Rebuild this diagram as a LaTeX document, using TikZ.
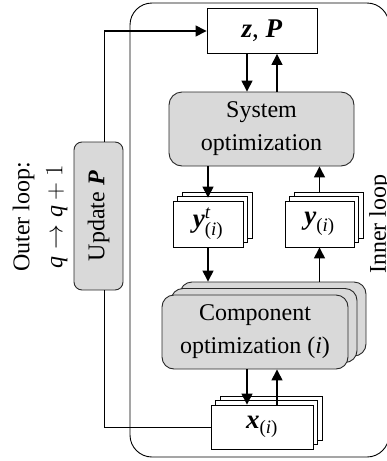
\documentclass[tikz,border=0pt]{standalone}
\usepackage{fontspec}
\usepackage{amsmath}
\usepackage{graphicx}
\setmainfont{Liberation Serif}
\usetikzlibrary{arrows.meta,shadows}
\definecolor{boxgray}{RGB}{217,217,217}
\definecolor{edgegray}{RGB}{40,40,40}
\newcommand{\bi}[1]{\textbf{\textit{#1}}}
\begin{document}
\begin{tikzpicture}[x=1pt,y=-1pt,
  font=\fontsize{24}{33}\selectfont,
  varbox/.style={draw=black,line width=0.9pt,fill=white,inner sep=0pt,
    minimum height=45pt,font=\fontsize{27}{30}\selectfont},
  stackthin/.style={double copy shadow={shadow xshift=4.5pt,shadow yshift=4.5pt}},
  optbox/.style={draw=edgegray,line width=0.9pt,fill=boxgray,rounded corners=13pt,
    inner sep=0pt,align=center},
  arr/.style={line width=1.4pt,-{Triangle[length=11pt,width=11pt]}},
]
\useasboundingbox (0,0) rectangle (387,461);
\begin{scope}
\clip (0,0) rectangle (387,461);
% inner loop frame
\draw[line width=0.9pt,rounded corners=22pt] (130,3) rectangle (389,457);
\node[rotate=90,inner sep=0pt] (inner) at (380,224) {Inner loop};

% variable boxes
\node[varbox,minimum width=110pt] (zp) at (262,31) {\bi{z}, \bi{P}};
\node[varbox,stackthin,minimum width=70pt,minimum height=46pt] (yt) at (208,224)
  {$\bi{y}^{\textit{t}}_{\text{(\textit{i})}}$};
\node[varbox,stackthin,minimum width=69pt,minimum height=46pt] (yb) at (319.5,224)
  {$\bi{y}_{\text{(\textit{i})}}$};
\node[varbox,stackthin,minimum width=102pt,minimum height=44pt] (xb) at (262,427)
  {$\bi{x}_{\text{(\textit{i})}}$};

% optimisation blocks
\node[optbox,minimum width=185pt,minimum height=74pt] (sys) at (261.5,129)
  {System\\optimization};
\node[optbox,rounded corners=12pt,minimum width=186pt,minimum height=74pt,
  double copy shadow={shadow xshift=9pt,shadow yshift=6.5pt}] (comp) at (255,332)
  {Component\\optimization (\textit{i})};
\node[optbox,rounded corners=8pt,minimum width=49pt,minimum height=148pt] (upd)
  at (98.5,216) {\rotatebox{90}{Update \bi{P}}};

\node[rotate=90,align=center,inner sep=0pt] (outer) at (40,217)
  {Outer loop:\\$\textit{q}\rightarrow\textit{q}+1$};

% inner loop connectors
\draw[arr] ([xshift=-15pt]zp.south) -- ([xshift=-15pt]zp.south |- sys.north);
\draw[arr] ([xshift=15pt]zp.south |- sys.north) -- ([xshift=15pt]zp.south);
\draw[arr] (sys.south -| yt.north) -- ([yshift=3pt]yt.north);
\draw[arr] ([yshift=9pt]yb.north) -- (yb.north |- sys.south);
\draw[arr] (yt.south) -- ([yshift=13pt]comp.north -| yt.south);
\draw[arr] ([yshift=13pt]comp.north -| yb.south) -- (yb.south);
\draw[arr] ([xshift=-15pt]xb.north |- comp.south) -- ([xshift=-15pt]xb.north);
\draw[arr] ([xshift=15pt]xb.north) -- ([xshift=15pt]xb.north |- comp.south);

% outer loop connectors
\draw[arr] ([xshift=6pt]upd.north) |- (zp.west);
\draw[line width=0.9pt] ([xshift=6pt]upd.south) |- (xb.west);
\end{scope}
\end{tikzpicture}
\end{document}
